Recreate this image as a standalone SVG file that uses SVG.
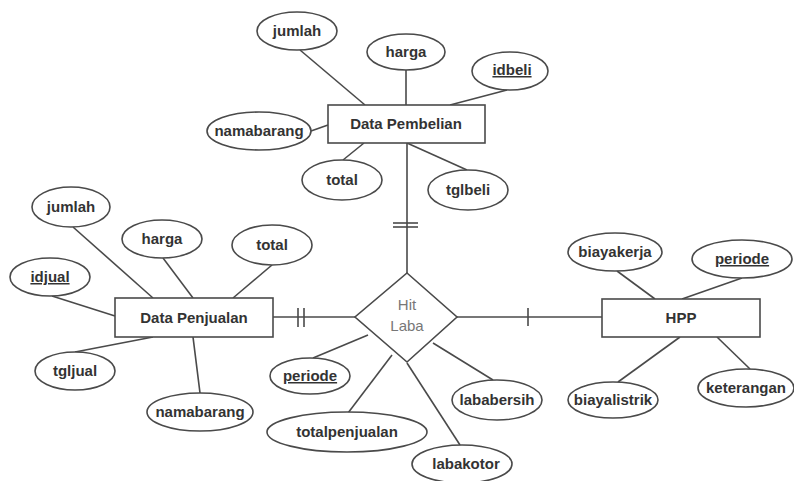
<svg xmlns="http://www.w3.org/2000/svg" width="794" height="481" viewBox="0 0 794 481">
<style>
.ln{stroke:#4a4a4a;stroke-width:1.6;fill:none}
.sh{stroke:#4a4a4a;stroke-width:1.6;fill:#fff}
.t{font-family:"Liberation Sans",Arial,sans-serif;font-size:15px;font-weight:bold;fill:#333;text-anchor:middle}
.u{text-decoration:underline}
.r{font-family:"Liberation Sans",Arial,sans-serif;font-size:15px;fill:#777;text-anchor:middle}
</style>
<rect width="794" height="481" fill="#fff"/>
<g id="connectors">
<!-- Data Pembelian -->
<line class="ln" x1="300" y1="50" x2="365" y2="105"/>
<line class="ln" x1="406" y1="70" x2="406" y2="105"/>
<line class="ln" x1="507" y1="90" x2="450" y2="105"/>
<line class="ln" x1="311" y1="131" x2="328" y2="125"/>
<line class="ln" x1="343" y1="160" x2="364" y2="143"/>
<line class="ln" x1="407" y1="143" x2="467" y2="170"/>
<line class="ln" x1="407" y1="143" x2="407" y2="273"/>
<line class="ln" x1="393" y1="223" x2="418" y2="223"/>
<line class="ln" x1="393" y1="227" x2="418" y2="227"/>
<!-- Data Penjualan -->
<line class="ln" x1="73" y1="227" x2="153" y2="298"/>
<line class="ln" x1="163" y1="258" x2="193" y2="298"/>
<line class="ln" x1="272" y1="265" x2="233" y2="298"/>
<line class="ln" x1="52" y1="296" x2="115" y2="316"/>
<line class="ln" x1="75" y1="352" x2="153" y2="337"/>
<line class="ln" x1="200" y1="393" x2="193" y2="337"/>
<line class="ln" x1="273" y1="317" x2="355" y2="317"/>
<line class="ln" x1="298" y1="308" x2="298" y2="327"/>
<line class="ln" x1="304" y1="308" x2="304" y2="327"/>
<!-- Hit Laba -->
<line class="ln" x1="313" y1="358" x2="368" y2="335"/>
<line class="ln" x1="348" y1="413" x2="392" y2="355"/>
<line class="ln" x1="407" y1="363" x2="460" y2="445"/>
<line class="ln" x1="433" y1="343" x2="493" y2="380"/>
<line class="ln" x1="457" y1="317" x2="602" y2="317"/>
<line class="ln" x1="528" y1="308" x2="528" y2="326"/>
<!-- HPP -->
<line class="ln" x1="617" y1="271" x2="655" y2="299"/>
<line class="ln" x1="742" y1="278" x2="682" y2="299"/>
<line class="ln" x1="618" y1="382" x2="680" y2="337"/>
<line class="ln" x1="750" y1="369" x2="717" y2="337"/>
</g>
<g id="data-pembelian">
<rect class="sh" x="328" y="105" width="157" height="38"/>
<text class="t" x="406" y="129">Data Pembelian</text>
</g>
<g id="pb-jumlah"><ellipse class="sh" cx="297" cy="31" rx="40" ry="19"/><text class="t" x="297" y="36">jumlah</text></g>
<g id="pb-harga"><ellipse class="sh" cx="406" cy="52" rx="39" ry="18"/><text class="t" x="406" y="57">harga</text></g>
<g id="pb-idbeli"><ellipse class="sh" cx="510" cy="71" rx="38" ry="19"/><text class="t u" x="512" y="75">idbeli</text></g>
<g id="pb-namabarang"><ellipse class="sh" cx="259" cy="131" rx="52" ry="19"/><text class="t" x="259" y="136">namabarang</text></g>
<g id="pb-total"><ellipse class="sh" cx="342" cy="180" rx="40" ry="20"/><text class="t" x="342" y="185">total</text></g>
<g id="pb-tglbeli"><ellipse class="sh" cx="468" cy="190" rx="40" ry="20"/><text class="t" x="468" y="195">tglbeli</text></g>

<g id="data-penjualan">
<rect class="sh" x="115" y="298" width="158" height="39"/>
<text class="t" x="194" y="323">Data Penjualan</text>
</g>
<g id="pj-jumlah"><ellipse class="sh" cx="71" cy="207" rx="39" ry="20"/><text class="t" x="71" y="212">jumlah</text></g>
<g id="pj-harga"><ellipse class="sh" cx="162" cy="239" rx="40" ry="19"/><text class="t" x="162" y="244">harga</text></g>
<g id="pj-total"><ellipse class="sh" cx="272" cy="245" rx="40" ry="20"/><text class="t" x="272" y="250">total</text></g>
<g id="pj-idjual"><ellipse class="sh" cx="50" cy="277" rx="40" ry="19"/><text class="t u" x="50" y="282">idjual</text></g>
<g id="pj-tgljual"><ellipse class="sh" cx="75" cy="371" rx="40" ry="19"/><text class="t" x="75" y="376">tgljual</text></g>
<g id="pj-namabarang"><ellipse class="sh" cx="200" cy="412" rx="53" ry="19"/><text class="t" x="200" y="417">namabarang</text></g>

<g id="hit-laba">
<polygon class="sh" points="407,273 457,317 407,362 355,317"/>
<text class="r" x="407" y="310">Hit</text>
<text class="r" x="407" y="331">Laba</text>
</g>
<g id="hl-periode"><ellipse class="sh" cx="310" cy="376" rx="40" ry="18"/><text class="t u" x="310" y="381">periode</text></g>
<g id="hl-totalpenjualan"><ellipse class="sh" cx="347" cy="432" rx="80" ry="20"/><text class="t" x="347" y="437">totalpenjualan</text></g>
<g id="hl-labakotor"><ellipse class="sh" cx="462" cy="464" rx="50" ry="19"/><text class="t" x="466" y="469">labakotor</text></g>
<g id="hl-lababersih"><ellipse class="sh" cx="497" cy="400" rx="45" ry="20"/><text class="t" x="497" y="405">lababersih</text></g>

<g id="hpp">
<rect class="sh" x="602" y="299" width="158" height="38"/>
<text class="t" x="681" y="323">HPP</text>
</g>
<g id="hpp-biayakerja"><ellipse class="sh" cx="615" cy="252" rx="47" ry="19"/><text class="t" x="615" y="257">biayakerja</text></g>
<g id="hpp-periode"><ellipse class="sh" cx="742" cy="259" rx="50" ry="19"/><text class="t u" x="742" y="264">periode</text></g>
<g id="hpp-biayalistrik"><ellipse class="sh" cx="613" cy="400" rx="45" ry="18"/><text class="t" x="613" y="405">biayalistrik</text></g>
<g id="hpp-keterangan"><ellipse class="sh" cx="746" cy="388" rx="48" ry="19"/><text class="t" x="746" y="393">keterangan</text></g>
</svg>
